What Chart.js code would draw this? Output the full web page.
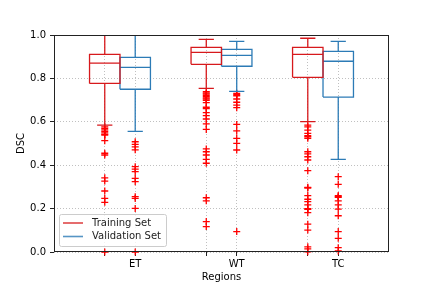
<!DOCTYPE html>
<html>
<head>
<meta charset="utf-8">
<script src="https://cdn.jsdelivr.net/npm/chart.js@4/dist/chart.umd.min.js"></script>
<style>
  body { margin: 0; background: #fff; }
  canvas { display: block; }
</style>
</head>
<body>
<canvas id="boxChart" width="432" height="288"></canvas>
<script>
// regions on the x axis
const regions = ['ET', 'WT', 'TC'];

// Training set box stats per region
const trainQ1 = [0.777, 0.865, 0.805];
const trainMedian = [0.870, 0.920, 0.911];
const trainQ3 = [0.911, 0.943, 0.943];
const trainLow = [0.585, 0.754, 0.601];
const trainHigh = [1.0, 0.980, 0.985];

// Validation set box stats per region
const valQ1 = [0.750, 0.856, 0.714];
const valMedian = [0.851, 0.906, 0.879];
const valQ3 = [0.897, 0.934, 0.925];
const valLow = [0.556, 0.740, 0.427];
const valHigh = [1.0, 0.971, 0.971];

// outliers (fliers)
const trainOutliers = [
  [0.577, 0.570, 0.563, 0.556, 0.549, 0.542, 0.539, 0.513, 0.455, 0.447, 0.342, 0.327, 0.281, 0.247, 0.229, 0.0],
  [0.739, 0.733, 0.728, 0.722, 0.716, 0.710, 0.705, 0.699, 0.688, 0.667, 0.661, 0.642, 0.628, 0.613, 0.590, 0.565,
   0.475, 0.462, 0.447, 0.427, 0.409, 0.250, 0.236, 0.140, 0.117],
  [0.585, 0.577, 0.562, 0.547, 0.536, 0.531, 0.524, 0.462, 0.452, 0.439, 0.424, 0.375, 0.298, 0.295, 0.260, 0.243,
   0.232, 0.217, 0.200, 0.197, 0.181, 0.128, 0.101, 0.024, 0.014, 0.001]
];
const valOutliers = [
  [0.508, 0.496, 0.484, 0.471, 0.393, 0.382, 0.370, 0.339, 0.324, 0.255, 0.247, 0.201, 0.0],
  [0.731, 0.725, 0.720, 0.705, 0.690, 0.677, 0.665, 0.588, 0.558, 0.524, 0.501, 0.470, 0.094],
  [0.347, 0.312, 0.260, 0.255, 0.252, 0.236, 0.217, 0.198, 0.167, 0.094, 0.063, 0.020, 0.005]
];

const yTicks = [0, 0.2, 0.4, 0.6, 0.8, 1.0];

const RED = '#d7191c';
const BLUE = '#2c7bb6';
const BOX_W = 0.3;
const TRAIN_SHIFT = -0.3;
const FONT = { family: 'DejaVu Sans', size: 10 };

function boxPath(pos, q1, med, q3, lo, hi) {
  const pts = [];
  const hw = BOX_W / 2, cw = BOX_W / 4;
  const gap = () => pts.push({ x: NaN, y: null });
  pos.forEach((g, i) => {
    pts.push({x: g - hw, y: q1[i]}, {x: g + hw, y: q1[i]}, {x: g + hw, y: q3[i]},
             {x: g - hw, y: q3[i]}, {x: g - hw, y: q1[i]}); gap();
    pts.push({x: g - hw, y: med[i]}, {x: g + hw, y: med[i]}); gap();
    pts.push({x: g, y: q1[i]}, {x: g, y: lo[i]}); gap();
    pts.push({x: g - cw, y: lo[i]}, {x: g + cw, y: lo[i]}); gap();
    pts.push({x: g, y: q3[i]}, {x: g, y: hi[i]}); gap();
    pts.push({x: g - cw, y: hi[i]}, {x: g + cw, y: hi[i]}); gap();
  });
  return pts;
}

function outlierPoints(pos, outs) {
  const pts = [];
  pos.forEach((g, i) => outs[i].forEach(v => pts.push({ x: g, y: v })));
  return pts;
}

const valPos = regions.map((r, i) => i + 1);
const trainPos = valPos.map(p => p + TRAIN_SHIFT);

const lineStyle = {
  showLine: true, pointRadius: 0, borderWidth: 1.3, spanGaps: false, fill: false
};
const flierStyle = {
  pointStyle: 'cross', pointRadius: 3.5, borderWidth: 1.3,
  borderColor: '#ff0000', backgroundColor: '#ff0000', showLine: false, clip: false
};

// frame + legend drawn on top
const framePlugin = {
  id: 'frame',
  afterDatasetsDraw(chart) {
    const { ctx, chartArea: a } = chart;
    ctx.save();
    ctx.strokeStyle = '#222';
    ctx.lineWidth = 1;
    ctx.strokeRect(Math.round(a.left) + 0.5, Math.round(a.top) + 0.5,
                   Math.round(a.right - a.left) - 1, Math.round(a.bottom - a.top) - 1);

    // legend
    const lx = 59, ly = 214, lw = 107, lh = 32;
    ctx.fillStyle = 'rgba(255,255,255,0.8)';
    ctx.strokeStyle = '#cccccc';
    ctx.beginPath();
    ctx.roundRect(lx + 0.5, ly + 0.5, lw, lh, 2);
    ctx.fill();
    ctx.stroke();
    const items = [['Training Set', RED], ['Validation Set', BLUE]];
    ctx.font = '10px "DejaVu Sans"';
    ctx.textBaseline = 'middle';
    items.forEach((it, i) => {
      const y = ly + 9 + i * 13.5;
      ctx.strokeStyle = it[1];
      ctx.globalAlpha = 0.8;
      ctx.lineWidth = 1.6;
      ctx.beginPath();
      ctx.moveTo(lx + 4, y);
      ctx.lineTo(lx + 24, y);
      ctx.stroke();
      ctx.globalAlpha = 1;
      ctx.fillStyle = '#222';
      ctx.fillText(it[0], lx + 33, y);
    });
    ctx.restore();
  }
};

new Chart(document.getElementById('boxChart'), {
  type: 'scatter',
  data: {
    datasets: [
      Object.assign({ label: 'Training Set', data: boxPath(trainPos, trainQ1, trainMedian, trainQ3, trainLow, trainHigh),
        borderColor: RED, backgroundColor: RED }, lineStyle),
      Object.assign({ label: 'Validation Set', data: boxPath(valPos, valQ1, valMedian, valQ3, valLow, valHigh),
        borderColor: BLUE, backgroundColor: BLUE }, lineStyle),
      Object.assign({ label: 'train fliers', data: outlierPoints(trainPos, trainOutliers) }, flierStyle),
      Object.assign({ label: 'val fliers', data: outlierPoints(valPos, valOutliers) }, flierStyle)
    ]
  },
  options: {
    responsive: false,
    animation: false,
    events: [],
    layout: { padding: { left: 0, top: 35, right: 43, bottom: 0 } },
    plugins: { legend: { display: false }, tooltip: { enabled: false } },
    scales: {
      x: {
        type: 'linear',
        min: 0.2,
        max: 3.5,
        afterBuildTicks(scale) {
          const t = [];
          valPos.forEach((p, i) => { t.push({ value: trainPos[i] }); t.push({ value: p }); });
          scale.ticks = t;
        },
        afterFit(scale) { scale.height = 36; },
        ticks: {
          autoSkip: false, maxRotation: 0, padding: 2, color: '#000', font: FONT,
          callback(v) {
            const i = valPos.indexOf(v);
            return i >= 0 ? regions[i] : '';
          }
        },
        grid: { color: '#b0b0b0', lineWidth: 0.8, tickLength: 4, tickColor: '#222', tickWidth: 1 },
        border: { display: false, dash: [1, 2] },
        title: { display: true, text: 'Regions', color: '#000', font: FONT, padding: { top: 0, bottom: 5 } }
      },
      y: {
        min: 0,
        max: 1,
        afterBuildTicks(scale) { scale.ticks = yTicks.map(v => ({ value: v })); },
        afterFit(scale) { scale.width = 54; },
        ticks: { padding: 4, color: '#000', font: FONT, callback: v => v.toFixed(1) },
        grid: { color: '#b0b0b0', lineWidth: 0.8, tickLength: 4, tickColor: '#222', tickWidth: 1 },
        border: { display: false, dash: [1, 2] },
        title: { display: true, text: 'DSC', color: '#000', font: FONT, padding: { top: 15, bottom: 0 } }
      }
    }
  },
  plugins: [framePlugin]
});
</script>
</body>
</html>
